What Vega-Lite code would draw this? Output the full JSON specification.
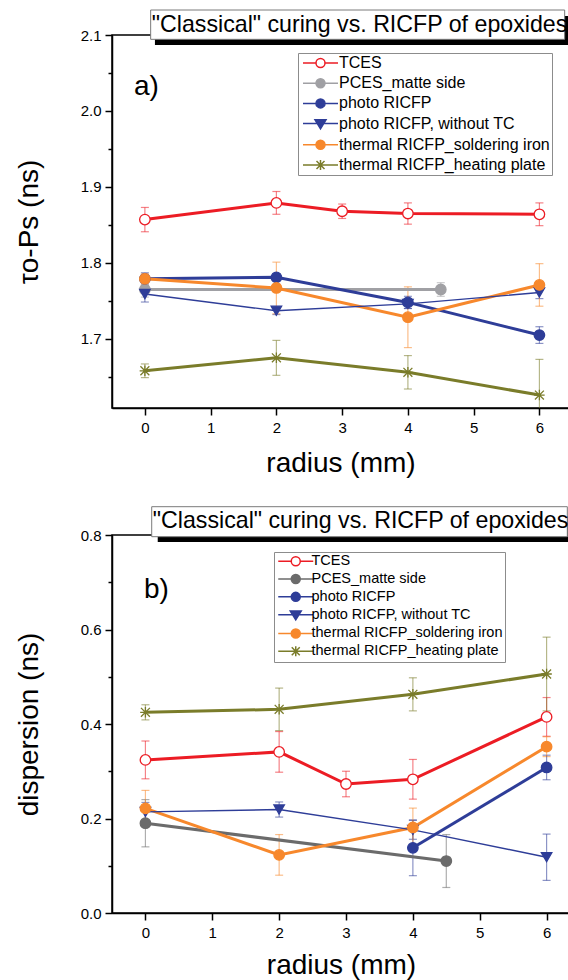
{
  "$schema": "https://vega.github.io/schema/vega-lite/v6.json",
  "padding": {"left": 14, "top": 8, "right": 0, "bottom": 0},
  "spacing": 27,
  "config": {
    "font": "Liberation Sans",
    "view": {"stroke": "#000", "strokeWidth": 1.5},
    "axis": {"domainColor": "#000", "domainWidth": 1.5, "tickColor": "#000", "tickWidth": 1.5, "labelFont": "Liberation Sans", "labelFontSize": 15, "labelColor": "#000", "titleFont": "Liberation Sans", "titleFontSize": 28, "titleFontWeight": "normal", "titleColor": "#000", "grid": false, "labelFlush": false, "labelOverlap": false},
    "legend": {"labelFont": "Liberation Sans", "labelColor": "#000", "labelLimit": 400}
  },
  "datasets": {
    "a": [
      {"s": "TCES", "r": 0, "v": 1.857, "e": 0.016},
      {"s": "TCES", "r": 2, "v": 1.879, "e": 0.015},
      {"s": "TCES", "r": 3, "v": 1.868, "e": 0.0095},
      {"s": "TCES", "r": 4, "v": 1.865, "e": 0.014},
      {"s": "TCES", "r": 6, "v": 1.864, "e": 0.015},
      {"s": "PCES_matte side", "r": 0, "v": 1.765, "e": 0.01},
      {"s": "PCES_matte side", "r": 4.5, "v": 1.765, "e": 0.009},
      {"s": "photo RICFP", "r": 0, "v": 1.779, "e": 0.008},
      {"s": "photo RICFP", "r": 2, "v": 1.781, "e": 0.005},
      {"s": "photo RICFP", "r": 4, "v": 1.748, "e": 0.008},
      {"s": "photo RICFP", "r": 6, "v": 1.705, "e": 0.011},
      {"s": "photo RICFP, without TC", "r": 0, "v": 1.759, "e": 0.0105},
      {"s": "photo RICFP, without TC", "r": 2, "v": 1.737, "e": 0.005},
      {"s": "photo RICFP, without TC", "r": 4, "v": 1.746, "e": 0.006},
      {"s": "photo RICFP, without TC", "r": 6, "v": 1.761, "e": 0.008},
      {"s": "thermal RICFP_soldering iron", "r": 0, "v": 1.779, "e": 0.0066},
      {"s": "thermal RICFP_soldering iron", "r": 2, "v": 1.767, "e": 0.034},
      {"s": "thermal RICFP_soldering iron", "r": 4, "v": 1.7285, "e": 0.04},
      {"s": "thermal RICFP_soldering iron", "r": 6, "v": 1.771, "e": 0.028},
      {"s": "thermal RICFP_heating plate", "r": 0, "v": 1.658, "e": 0.009},
      {"s": "thermal RICFP_heating plate", "r": 2, "v": 1.675, "e": 0.023},
      {"s": "thermal RICFP_heating plate", "r": 4, "v": 1.656, "e": 0.022},
      {"s": "thermal RICFP_heating plate", "r": 6, "v": 1.626, "e": 0.047}
    ],
    "b": [
      {"s": "TCES", "r": 0, "v": 0.324, "e": 0.04},
      {"s": "TCES", "r": 2, "v": 0.341, "e": 0.043},
      {"s": "TCES", "r": 3, "v": 0.273, "e": 0.027},
      {"s": "TCES", "r": 4, "v": 0.283, "e": 0.042},
      {"s": "TCES", "r": 6, "v": 0.415, "e": 0.041},
      {"s": "PCES_matte side", "r": 0, "v": 0.19, "e": 0.05},
      {"s": "PCES_matte side", "r": 4.5, "v": 0.11, "e": 0.056},
      {"s": "photo RICFP", "r": 4, "v": 0.138, "e": 0.059},
      {"s": "photo RICFP", "r": 6, "v": 0.308, "e": 0.026},
      {"s": "photo RICFP, without TC", "r": 0, "v": 0.214, "e": 0.02},
      {"s": "photo RICFP, without TC", "r": 2, "v": 0.219, "e": 0.016},
      {"s": "photo RICFP, without TC", "r": 4, "v": 0.176, "e": 0.02},
      {"s": "photo RICFP, without TC", "r": 6, "v": 0.118, "e": 0.049},
      {"s": "thermal RICFP_soldering iron", "r": 0, "v": 0.2215, "e": 0.038},
      {"s": "thermal RICFP_soldering iron", "r": 2, "v": 0.123, "e": 0.043},
      {"s": "thermal RICFP_soldering iron", "r": 4, "v": 0.181, "e": 0.041},
      {"s": "thermal RICFP_soldering iron", "r": 6, "v": 0.352, "e": 0.021},
      {"s": "thermal RICFP_heating plate", "r": 0, "v": 0.4247, "e": 0.016},
      {"s": "thermal RICFP_heating plate", "r": 2, "v": 0.431, "e": 0.045},
      {"s": "thermal RICFP_heating plate", "r": 4, "v": 0.4628, "e": 0.035},
      {"s": "thermal RICFP_heating plate", "r": 6, "v": 0.5058, "e": 0.078}
    ]
  },
  "vconcat": [
    {
      "width": 457,
      "height": 373,
      "data": {"name": "a"},
      "resolve": {"scale": {"color": "independent", "fill": "independent", "stroke": "independent", "shape": "independent"}},
      "layer": [
        {
          "mark": {"type": "errorbar", "ticks": true, "size": 8, "thickness": 1.2, "opacity": 0.55, "clip": true},
          "encoding": {
            "x": {"field": "r", "type": "quantitative", "scale": {"domain": [-0.5, 6.45], "nice": false, "zero": false}, "axis": {"title": "radius (mm)", "values": [0, 0.5, 1, 1.5, 2, 2.5, 3, 3.5, 4, 4.5, 5, 5.5, 6], "labelExpr": "datum.value % 1 === 0 ? format(datum.value, 'd') : ''", "tickSize": {"condition": {"test": "datum.value % 1 !== 0", "value": 4}, "value": 7}, "labelPadding": 5, "titlePadding": 14}},
            "y": {"field": "v", "type": "quantitative", "scale": {"domain": [1.609, 2.1], "nice": false, "zero": false}, "axis": {"title": "τo-Ps (ns)", "values": [1.65, 1.7, 1.75, 1.8, 1.85, 1.9, 1.95, 2.0, 2.05, 2.1], "labelExpr": "round(datum.value*100) % 10 === 0 ? format(datum.value, '.1f') : ''", "tickSize": {"condition": {"test": "round(datum.value*100) % 10 !== 0", "value": 4}, "value": 7}, "labelPadding": 4, "titlePadding": 37}},
            "yError": {"field": "e"},
            "color": {"field": "s", "type": "nominal", "scale": {"domain": ["TCES", "PCES_matte side", "photo RICFP", "photo RICFP, without TC", "thermal RICFP_soldering iron", "thermal RICFP_heating plate"], "range": ["#ec1c24", "#a0a0a4", "#2e3d98", "#2e3d98", "#f7882c", "#7a7c2a"]}, "legend": null}
          }
        },
        {
          "transform": [{"filter": "datum.s !== 'photo RICFP, without TC'"}],
          "mark": {"type": "line", "strokeWidth": 3},
          "encoding": {
            "x": {"field": "r", "type": "quantitative"},
            "y": {"field": "v", "type": "quantitative"},
            "color": {"field": "s", "type": "nominal", "scale": {"domain": ["TCES", "PCES_matte side", "photo RICFP", "photo RICFP, without TC", "thermal RICFP_soldering iron", "thermal RICFP_heating plate"], "range": ["#ec1c24", "#a0a0a4", "#2e3d98", "#2e3d98", "#f7882c", "#7a7c2a"]}, "legend": null}
          }
        },
        {
          "transform": [{"filter": "datum.s === 'photo RICFP, without TC'"}],
          "mark": {"type": "line", "strokeWidth": 1.4, "color": "#2e3d98"},
          "encoding": {
            "x": {"field": "r", "type": "quantitative"},
            "y": {"field": "v", "type": "quantitative"}
          }
        },
        {
          "mark": {"type": "point", "opacity": 1, "size": 110, "strokeWidth": 1.3},
          "encoding": {
            "x": {"field": "r", "type": "quantitative"},
            "y": {"field": "v", "type": "quantitative"},
            "fill": {"field": "s", "type": "nominal", "scale": {"domain": ["TCES", "PCES_matte side", "photo RICFP", "photo RICFP, without TC", "thermal RICFP_soldering iron", "thermal RICFP_heating plate"], "range": ["#ffffff", "#a0a0a4", "#2e3d98", "#2e3d98", "#f7882c", "#7a7c2a"]}, "legend": null},
            "stroke": {"field": "s", "type": "nominal", "scale": {"domain": ["TCES", "PCES_matte side", "photo RICFP", "photo RICFP, without TC", "thermal RICFP_soldering iron", "thermal RICFP_heating plate"], "range": ["#ec1c24", "#a0a0a4", "#2e3d98", "#2e3d98", "#f7882c", "#7a7c2a"]}, "legend": null},
            "shape": {"field": "s", "type": "nominal", "scale": {"domain": ["TCES", "PCES_matte side", "photo RICFP", "photo RICFP, without TC", "thermal RICFP_soldering iron", "thermal RICFP_heating plate"], "range": ["circle", "circle", "circle", "triangle-down", "circle", "M0,-1L0,1M-0.85,-0.85L0.85,0.85M-0.85,0.85L0.85,-0.85M-1,0L1,0"]}, "legend": null}
          }
        },
        {
          "transform": [{"filter": "false"}],
          "mark": {"type": "point", "opacity": 1, "size": 100},
          "encoding": {
            "x": {"field": "r", "type": "quantitative"},
            "y": {"field": "v", "type": "quantitative"},
            "fill": {"field": "s", "type": "nominal", "scale": {"domain": ["TCES", "PCES_matte side", "photo RICFP", "photo RICFP, without TC", "thermal RICFP_soldering iron", "thermal RICFP_heating plate"], "range": ["#ffffff", "#a0a0a4", "#2e3d98", "#2e3d98", "#f7882c", "#7a7c2a"]}, "legend": {"title": null, "orient": "none", "legendX": 186, "legendY": 18, "labelFontSize": 16, "symbolSize": 100, "labelOffset": 23, "rowPadding": 4.2, "padding": 2, "strokeColor": "#8c8c8c", "fillColor": "#ffffff", "encode": {"symbols": {"update": {"strokeWidth": {"signal": "datum.value === 'photo RICFP, without TC' ? 1.2 : 2.4"}}}}}},
            "stroke": {"field": "s", "type": "nominal", "scale": {"domain": ["TCES", "PCES_matte side", "photo RICFP", "photo RICFP, without TC", "thermal RICFP_soldering iron", "thermal RICFP_heating plate"], "range": ["#ec1c24", "#a0a0a4", "#2e3d98", "#2e3d98", "#f7882c", "#7a7c2a"]}, "legend": {"title": null, "orient": "none", "legendX": 186, "legendY": 18, "labelFontSize": 16, "symbolSize": 100, "labelOffset": 23, "rowPadding": 4.2, "padding": 2, "strokeColor": "#8c8c8c", "fillColor": "#ffffff", "encode": {"symbols": {"update": {"strokeWidth": {"signal": "datum.value === 'photo RICFP, without TC' ? 1.2 : 2.4"}}}}}},
            "shape": {"field": "s", "type": "nominal", "scale": {"domain": ["TCES", "PCES_matte side", "photo RICFP", "photo RICFP, without TC", "thermal RICFP_soldering iron", "thermal RICFP_heating plate"], "range": ["M-1,0L1.6,0M3.4,0L6,0M3.4,0A0.9,0.9,0,1,1,1.6,0A0.9,0.9,0,1,1,3.4,0Z", "M-1,0L1.6,0M3.4,0L6,0M3.4,0A0.9,0.9,0,1,1,1.6,0A0.9,0.9,0,1,1,3.4,0Z", "M-1,0L1.6,0M3.4,0L6,0M3.4,0A0.9,0.9,0,1,1,1.6,0A0.9,0.9,0,1,1,3.4,0Z", "M-1,0L6,0M1.4,-0.75L3.6,-0.75L2.5,1.05Z", "M-1,0L1.6,0M3.4,0L6,0M3.4,0A0.9,0.9,0,1,1,1.6,0A0.9,0.9,0,1,1,3.4,0Z", "M-1,0L6,0M2.5,-1L2.5,1M1.7,-0.8L3.3,0.8M1.7,0.8L3.3,-0.8"]}, "legend": {"title": null, "orient": "none", "legendX": 186, "legendY": 18, "labelFontSize": 16, "symbolSize": 100, "labelOffset": 23, "rowPadding": 4.2, "padding": 2, "strokeColor": "#8c8c8c", "fillColor": "#ffffff", "encode": {"symbols": {"update": {"strokeWidth": {"signal": "datum.value === 'photo RICFP, without TC' ? 1.2 : 2.4"}}}}}}
          }
        },
        {
          "data": {"values": [{"t": "a)"}]},
          "mark": {"type": "text", "fontSize": 28, "align": "left", "baseline": "middle", "color": "#000"},
          "encoding": {
            "x": {"datum": -0.166, "type": "quantitative"},
            "y": {"datum": 2.032, "type": "quantitative"},
            "text": {"field": "t"}
          }
        },
        {
          "data": {"values": [{"t": "shadow"}]},
          "mark": {"type": "rect", "color": "#000"},
          "encoding": {
            "x": {"datum": 0.153, "type": "quantitative"},
            "x2": {"datum": 6.6},
            "y": {"datum": 2.0868, "type": "quantitative"},
            "y2": {"datum": 2.125}
          }
        },
        {
          "data": {"values": [{"t": "box"}]},
          "mark": {"type": "rect", "fill": "#ffffff", "stroke": "#7a7a7a", "strokeWidth": 1},
          "encoding": {
            "x": {"datum": 0.088, "type": "quantitative"},
            "x2": {"datum": 6.384},
            "y": {"datum": 2.0943, "type": "quantitative"},
            "y2": {"datum": 2.1329}
          }
        },
        {
          "data": {"values": [{"t": "\"Classical\" curing vs. RICFP of epoxides"}]},
          "mark": {"type": "text", "fontSize": 23.2, "align": "left", "baseline": "middle", "color": "#000"},
          "encoding": {
            "x": {"datum": 0.105, "type": "quantitative"},
            "y": {"datum": 2.1132, "type": "quantitative"},
            "text": {"field": "t"}
          }
        }
      ]
    },
    {
      "width": 458,
      "height": 378,
      "data": {"name": "b"},
      "resolve": {"scale": {"color": "independent", "fill": "independent", "stroke": "independent", "shape": "independent"}},
      "layer": [
        {
          "mark": {"type": "errorbar", "ticks": true, "size": 8, "thickness": 1.2, "opacity": 0.55, "clip": true},
          "encoding": {
            "x": {"field": "r", "type": "quantitative", "scale": {"domain": [-0.5, 6.35], "nice": false, "zero": false}, "axis": {"title": "radius (mm)", "values": [0, 0.5, 1, 1.5, 2, 2.5, 3, 3.5, 4, 4.5, 5, 5.5, 6], "labelExpr": "datum.value % 1 === 0 ? format(datum.value, 'd') : ''", "tickSize": {"condition": {"test": "datum.value % 1 !== 0", "value": 4}, "value": 7}, "labelPadding": 5, "titlePadding": 11}},
            "y": {"field": "v", "type": "quantitative", "scale": {"domain": [0, 0.8], "nice": false, "zero": false}, "axis": {"title": "dispersion (ns)", "values": [0, 0.1, 0.2, 0.3, 0.4, 0.5, 0.6, 0.7, 0.8], "labelExpr": "round(datum.value*10) % 2 === 0 ? format(datum.value, '.1f') : ''", "tickSize": {"condition": {"test": "round(datum.value*10) % 2 !== 0", "value": 4}, "value": 7}, "labelPadding": 4, "titlePadding": 37}},
            "yError": {"field": "e"},
            "color": {"field": "s", "type": "nominal", "scale": {"domain": ["TCES", "PCES_matte side", "photo RICFP", "photo RICFP, without TC", "thermal RICFP_soldering iron", "thermal RICFP_heating plate"], "range": ["#ec1c24", "#6b6b6b", "#2e3d98", "#2e3d98", "#f7882c", "#7a7c2a"]}, "legend": null}
          }
        },
        {
          "transform": [{"filter": "datum.s !== 'photo RICFP, without TC'"}],
          "mark": {"type": "line", "strokeWidth": 3},
          "encoding": {
            "x": {"field": "r", "type": "quantitative"},
            "y": {"field": "v", "type": "quantitative"},
            "color": {"field": "s", "type": "nominal", "scale": {"domain": ["TCES", "PCES_matte side", "photo RICFP", "photo RICFP, without TC", "thermal RICFP_soldering iron", "thermal RICFP_heating plate"], "range": ["#ec1c24", "#6b6b6b", "#2e3d98", "#2e3d98", "#f7882c", "#7a7c2a"]}, "legend": null}
          }
        },
        {
          "transform": [{"filter": "datum.s === 'photo RICFP, without TC'"}],
          "mark": {"type": "line", "strokeWidth": 1.4, "color": "#2e3d98"},
          "encoding": {
            "x": {"field": "r", "type": "quantitative"},
            "y": {"field": "v", "type": "quantitative"}
          }
        },
        {
          "mark": {"type": "point", "opacity": 1, "size": 110, "strokeWidth": 1.3},
          "encoding": {
            "x": {"field": "r", "type": "quantitative"},
            "y": {"field": "v", "type": "quantitative"},
            "fill": {"field": "s", "type": "nominal", "scale": {"domain": ["TCES", "PCES_matte side", "photo RICFP", "photo RICFP, without TC", "thermal RICFP_soldering iron", "thermal RICFP_heating plate"], "range": ["#ffffff", "#6b6b6b", "#2e3d98", "#2e3d98", "#f7882c", "#7a7c2a"]}, "legend": null},
            "stroke": {"field": "s", "type": "nominal", "scale": {"domain": ["TCES", "PCES_matte side", "photo RICFP", "photo RICFP, without TC", "thermal RICFP_soldering iron", "thermal RICFP_heating plate"], "range": ["#ec1c24", "#6b6b6b", "#2e3d98", "#2e3d98", "#f7882c", "#7a7c2a"]}, "legend": null},
            "shape": {"field": "s", "type": "nominal", "scale": {"domain": ["TCES", "PCES_matte side", "photo RICFP", "photo RICFP, without TC", "thermal RICFP_soldering iron", "thermal RICFP_heating plate"], "range": ["circle", "circle", "circle", "triangle-down", "circle", "M0,-1L0,1M-0.85,-0.85L0.85,0.85M-0.85,0.85L0.85,-0.85M-1,0L1,0"]}, "legend": null}
          }
        },
        {
          "transform": [{"filter": "false"}],
          "mark": {"type": "point", "opacity": 1, "size": 100},
          "encoding": {
            "x": {"field": "r", "type": "quantitative"},
            "y": {"field": "v", "type": "quantitative"},
            "fill": {"field": "s", "type": "nominal", "scale": {"domain": ["TCES", "PCES_matte side", "photo RICFP", "photo RICFP, without TC", "thermal RICFP_soldering iron", "thermal RICFP_heating plate"], "range": ["#ffffff", "#6b6b6b", "#2e3d98", "#2e3d98", "#f7882c", "#7a7c2a"]}, "legend": {"title": null, "orient": "none", "legendX": 162, "legendY": 17, "labelFontSize": 14.5, "symbolSize": 100, "labelOffset": 21, "rowPadding": 1.8, "padding": 2, "strokeColor": "#8c8c8c", "fillColor": "#ffffff", "encode": {"symbols": {"update": {"strokeWidth": {"signal": "datum.value === 'photo RICFP, without TC' ? 1.2 : 2.4"}}}}}},
            "stroke": {"field": "s", "type": "nominal", "scale": {"domain": ["TCES", "PCES_matte side", "photo RICFP", "photo RICFP, without TC", "thermal RICFP_soldering iron", "thermal RICFP_heating plate"], "range": ["#ec1c24", "#6b6b6b", "#2e3d98", "#2e3d98", "#f7882c", "#7a7c2a"]}, "legend": {"title": null, "orient": "none", "legendX": 162, "legendY": 17, "labelFontSize": 14.5, "symbolSize": 100, "labelOffset": 21, "rowPadding": 1.8, "padding": 2, "strokeColor": "#8c8c8c", "fillColor": "#ffffff", "encode": {"symbols": {"update": {"strokeWidth": {"signal": "datum.value === 'photo RICFP, without TC' ? 1.2 : 2.4"}}}}}},
            "shape": {"field": "s", "type": "nominal", "scale": {"domain": ["TCES", "PCES_matte side", "photo RICFP", "photo RICFP, without TC", "thermal RICFP_soldering iron", "thermal RICFP_heating plate"], "range": ["M-1,0L1.6,0M3.4,0L6,0M3.4,0A0.9,0.9,0,1,1,1.6,0A0.9,0.9,0,1,1,3.4,0Z", "M-1,0L1.6,0M3.4,0L6,0M3.4,0A0.9,0.9,0,1,1,1.6,0A0.9,0.9,0,1,1,3.4,0Z", "M-1,0L1.6,0M3.4,0L6,0M3.4,0A0.9,0.9,0,1,1,1.6,0A0.9,0.9,0,1,1,3.4,0Z", "M-1,0L6,0M1.4,-0.75L3.6,-0.75L2.5,1.05Z", "M-1,0L1.6,0M3.4,0L6,0M3.4,0A0.9,0.9,0,1,1,1.6,0A0.9,0.9,0,1,1,3.4,0Z", "M-1,0L6,0M2.5,-1L2.5,1M1.7,-0.8L3.3,0.8M1.7,0.8L3.3,-0.8"]}, "legend": {"title": null, "orient": "none", "legendX": 162, "legendY": 17, "labelFontSize": 14.5, "symbolSize": 100, "labelOffset": 21, "rowPadding": 1.8, "padding": 2, "strokeColor": "#8c8c8c", "fillColor": "#ffffff", "encode": {"symbols": {"update": {"strokeWidth": {"signal": "datum.value === 'photo RICFP, without TC' ? 1.2 : 2.4"}}}}}}
          }
        },
        {
          "data": {"values": [{"t": "b)"}]},
          "mark": {"type": "text", "fontSize": 28, "align": "left", "baseline": "middle", "color": "#000"},
          "encoding": {
            "x": {"datum": -0.021, "type": "quantitative"},
            "y": {"datum": 0.6836, "type": "quantitative"},
            "text": {"field": "t"}
          }
        },
        {
          "data": {"values": [{"t": "shadow"}]},
          "mark": {"type": "rect", "color": "#000"},
          "encoding": {
            "x": {"datum": 0.184, "type": "quantitative"},
            "x2": {"datum": 6.6},
            "y": {"datum": 0.7852, "type": "quantitative"},
            "y2": {"datum": 0.84}
          }
        },
        {
          "data": {"values": [{"t": "box"}]},
          "mark": {"type": "rect", "fill": "#ffffff", "stroke": "#7a7a7a", "strokeWidth": 1},
          "encoding": {
            "x": {"datum": 0.094, "type": "quantitative"},
            "x2": {"datum": 6.31},
            "y": {"datum": 0.7964, "type": "quantitative"},
            "y2": {"datum": 0.8599}
          }
        },
        {
          "data": {"values": [{"t": "\"Classical\" curing vs. RICFP of epoxides"}]},
          "mark": {"type": "text", "fontSize": 23.2, "align": "left", "baseline": "middle", "color": "#000"},
          "encoding": {
            "x": {"datum": 0.11, "type": "quantitative"},
            "y": {"datum": 0.8303, "type": "quantitative"},
            "text": {"field": "t"}
          }
        }
      ]
    }
  ]
}
